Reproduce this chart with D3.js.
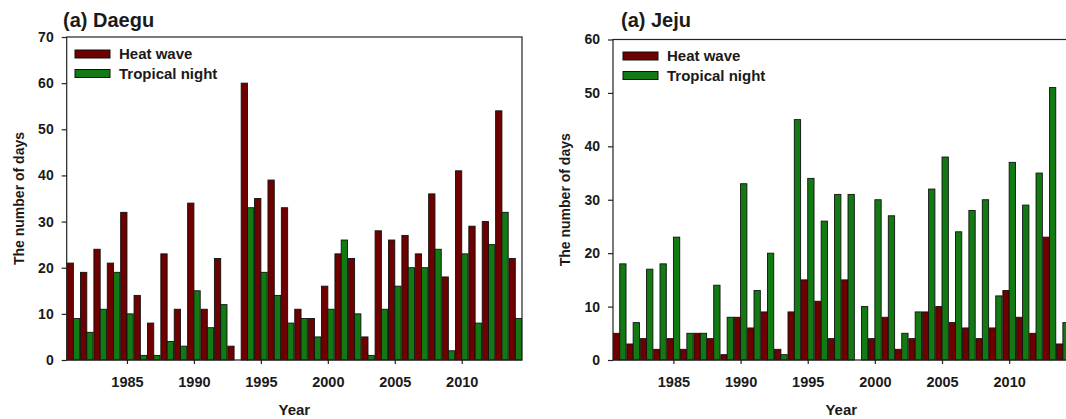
<!DOCTYPE html>
<html>
<head>
<meta charset="utf-8">
<script src="https://cdn.jsdelivr.net/npm/d3@7/dist/d3.min.js"></script>
<style>
  html, body { margin: 0; padding: 0; background: #fff; }
  svg { display: block; }
  text { font-family: "Liberation Sans", Arial, sans-serif; font-weight: bold; fill: #1a1a1a; }
</style>
</head>
<body>
<svg id="chart" width="1066" height="419"></svg>
<script>
const years = [1981,1982,1983,1984,1985,1986,1987,1988,1989,1990,1991,1992,1993,1994,1995,1996,1997,1998,1999,2000,2001,2002,2003,2004,2005,2006,2007,2008,2009,2010,2011,2012,2013,2014];
const xTicks = [1985, 1990, 1995, 2000, 2005, 2010];
const seriesNames = ["Heat wave", "Tropical night"];

const daeguHeatWave     = [21,19,24,21,32,14,8,23,11,34,11,22,3,60,35,39,33,11,9,16,23,22,5,28,26,27,23,36,18,41,29,30,54,22];
const daeguTropicalNight = [9,6,11,19,10,1,1,4,3,15,7,12,0,33,19,14,8,9,5,11,26,10,1,11,16,20,20,24,2,23,8,25,32,9];
const daeguYTicks = [0,10,20,30,40,50,60,70];

const jejuHeatWave     = [5,3,4,2,4,2,5,4,1,8,6,9,2,9,15,11,4,15,0,4,8,2,4,9,10,7,6,4,6,13,8,5,23,3];
const jejuTropicalNight = [18,7,17,18,23,5,5,14,8,33,13,20,1,45,34,26,31,31,10,30,27,5,9,32,38,24,28,30,12,37,29,35,51,7];
const jejuYTicks = [0,10,20,30,40,50,60];

const colors = ["#6e0000", "#137a13"];
const svg = d3.select("#chart");

function drawPanel(o) {
  const g = svg.append("g");
  const x = d3.scaleLinear().domain([1980.5, 2014.5]).range([o.left, o.right]);
  const y = d3.scaleLinear().domain([0, o.yMax]).range([o.bottom, o.top]);
  const bw = x(1980.5 + 0.47) - x(1980.5);

  // bars
  const series = [o.hw, o.tn];
  series.forEach((vals, si) => {
    g.append("g").selectAll("rect").data(years).join("rect")
      .attr("x", (d) => si === 0 ? x(d) - bw : x(d))
      .attr("width", bw)
      .attr("y", (d, i) => y(vals[i]))
      .attr("height", (d, i) => y(0) - y(vals[i]))
      .attr("fill", colors[si])
      .attr("stroke", "#111")
      .attr("stroke-width", 0.9)
      .attr("display", (d, i) => vals[i] > 0 ? null : "none");
  });

  // frame
  g.append("rect")
    .attr("x", o.left).attr("y", o.top)
    .attr("width", o.right - o.left).attr("height", o.bottom - o.top)
    .attr("fill", "none").attr("stroke", "#222").attr("stroke-width", 1.2);

  // x axis
  const xa = g.append("g").attr("transform", `translate(0,${o.bottom})`)
    .call(d3.axisBottom(x).tickValues(xTicks).tickFormat(d3.format("d")).tickSize(4).tickPadding(13));
  xa.select(".domain").remove();
  xa.selectAll("line").attr("stroke", "#222").attr("stroke-width", 1.2);
  xa.selectAll("text").attr("font-size", 14.5).attr("fill", "#1a1a1a")
    .attr("font-family", '"Liberation Sans", Arial, sans-serif').attr("font-weight", "bold");

  // y axis
  const ya = g.append("g").attr("transform", `translate(${o.left},0)`)
    .call(d3.axisLeft(y).tickValues(o.yTicks).tickSize(5).tickPadding(8));
  ya.select(".domain").remove();
  ya.selectAll("line").attr("stroke", "#222").attr("stroke-width", 1.2);
  ya.selectAll("text").attr("font-size", 14).attr("fill", "#1a1a1a")
    .attr("font-family", '"Liberation Sans", Arial, sans-serif').attr("font-weight", "bold");

  // title
  g.append("text").attr("x", o.titleX).attr("y", 27).attr("font-size", 20).text(o.title);

  // axis titles
  g.append("text").attr("x", (o.left + o.right) / 2).attr("y", 415)
    .attr("text-anchor", "middle").attr("font-size", 15).text("Year");
  g.append("text")
    .attr("transform", `translate(${o.yTitleX},${(o.top + o.bottom) / 2}) rotate(-90)`)
    .attr("text-anchor", "middle").attr("font-size", 14).text("The number of days");

  // legend
  seriesNames.forEach((name, i) => {
    const ly = o.legendY + i * 19.5;
    g.append("rect").attr("x", o.legendX).attr("y", ly).attr("width", 35).attr("height", 8)
      .attr("fill", colors[i]).attr("stroke", "#111").attr("stroke-width", 1);
    g.append("text").attr("x", o.legendX + 44).attr("y", ly + 9).attr("font-size", 15).text(name);
  });
}

drawPanel({
  title: "(a) Daegu", titleX: 63, hw: daeguHeatWave, tn: daeguTropicalNight,
  yMax: 70, yTicks: daeguYTicks, left: 66.7, right: 522, top: 37, bottom: 360,
  yTitleX: 24, legendX: 75, legendY: 50
});
drawPanel({
  title: "(a) Jeju", titleX: 621, hw: jejuHeatWave, tn: jejuTropicalNight,
  yMax: 60, yTicks: jejuYTicks, left: 613, right: 1069.6, top: 39.5, bottom: 360,
  yTitleX: 570, legendX: 623, legendY: 52
});
</script>
</body>
</html>
